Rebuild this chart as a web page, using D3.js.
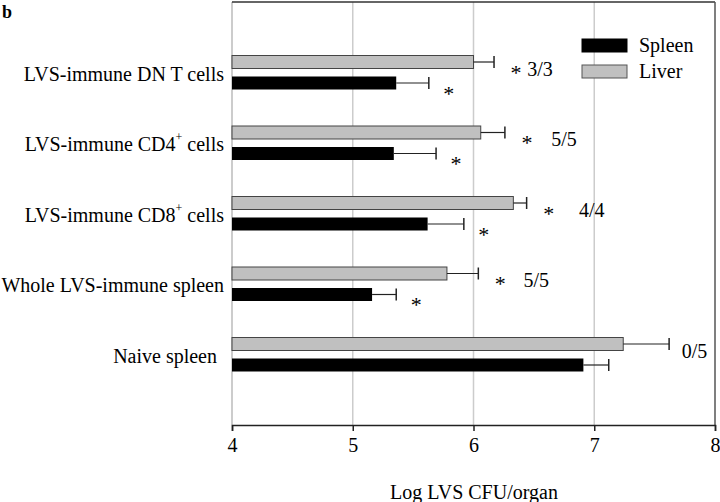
<!DOCTYPE html>
<html><head><meta charset="utf-8">
<script src="https://cdn.jsdelivr.net/npm/d3@7"></script>
<style>
html,body{margin:0;padding:0;background:#fff;}
svg{display:block;}
svg text{font-family:"Liberation Serif","Times New Roman",Times,serif;}
</style></head>
<body>
<svg id="chart" width="720" height="502"></svg>
<script>
// ---- data ----
const categories = ["LVS-immune DN T cells", "LVS-immune CD4+ cells", "LVS-immune CD8+ cells", "Whole LVS-immune spleen", "Naive spleen"];
const spleenValues = [5.36, 5.34, 5.62, 5.16, 6.91];
const spleenErrors = [0.27, 0.35, 0.30, 0.20, 0.21];
const liverValues  = [6.00, 6.06, 6.33, 5.78, 7.24];
const liverErrors  = [0.17, 0.20, 0.11, 0.26, 0.38];
const spleenStars  = [true, true, true, true, false];
const liverStars   = [true, true, true, true, false];
const fractions    = ["3/3", "5/5", "4/4", "5/5", "0/5"];
const fracX        = [6.55, 6.75, 6.98, 6.52, 7.83];
const xTicks = [4, 5, 6, 7, 8];
const seriesNames = ["Spleen", "Liver"];

// ---- layout ----
const FONT = "Liberation Serif";
const svg = d3.select("#chart");
const L = 232, R = 715, T = 2, B = 425;
const x = d3.scaleLinear().domain([4, 8]).range([L, R]);
const y = d3.scalePoint().domain(categories).range([T, B]).padding(1);
const barH = 13, gapIn = 8;
const colors = {Spleen: "#000000", Liver: "#c0c0c0"};

// grid
svg.append("g").selectAll("line").data([5, 6, 7]).join("line")
  .attr("x1", d => x(d)).attr("x2", d => x(d)).attr("y1", T).attr("y2", B)
  .attr("stroke", "#cccccc").attr("stroke-width", 1.5);

// frame
svg.append("line").attr("x1", L).attr("x2", L).attr("y1", T).attr("y2", B).attr("stroke", "#bbbbbb").attr("stroke-width", 1.5);
svg.append("line").attr("x1", L).attr("x2", R).attr("y1", T).attr("y2", T).attr("stroke", "#333").attr("stroke-width", 1.5);
svg.append("line").attr("x1", R).attr("x2", R).attr("y1", T).attr("y2", B).attr("stroke", "#555").attr("stroke-width", 1.5);

// bars
const rows = categories.map((c, i) => ({c, i}));
const g = svg.append("g");
function yLiver(c) { return y(c) - (barH * 2 + gapIn) / 2; }
function ySpleen(c) { return yLiver(c) + barH + gapIn; }

rows.forEach(({c, i}) => {
  const yl = yLiver(c), ys = ySpleen(c);
  g.append("rect").attr("x", x(4)).attr("y", yl).attr("width", x(liverValues[i]) - x(4)).attr("height", barH)
    .attr("fill", colors.Liver).attr("stroke", "#444").attr("stroke-width", 1);
  g.append("rect").attr("x", x(4)).attr("y", ys).attr("width", x(spleenValues[i]) - x(4)).attr("height", barH)
    .attr("fill", colors.Spleen);
  [[liverValues[i], liverErrors[i], yl], [spleenValues[i], spleenErrors[i], ys]].forEach(([v, e, yy]) => {
    const cy = yy + barH / 2;
    g.append("line").attr("x1", x(v)).attr("x2", x(v + e)).attr("y1", cy).attr("y2", cy).attr("stroke", "#222").attr("stroke-width", 1.2);
    g.append("line").attr("x1", x(v + e)).attr("x2", x(v + e)).attr("y1", cy - 6).attr("y2", cy + 6).attr("stroke", "#222").attr("stroke-width", 1.5);
  });
  if (liverStars[i]) {
    g.append("text").attr("x", x(liverValues[i] + liverErrors[i]) + 22).attr("y", yl + barH + 11)
      .attr("text-anchor", "middle").attr("font-family", FONT).attr("font-size", 22).text("*");
  }
  if (spleenStars[i]) {
    g.append("text").attr("x", x(spleenValues[i] + spleenErrors[i]) + 20).attr("y", ys + barH + 11)
      .attr("text-anchor", "middle").attr("font-family", FONT).attr("font-size", 22).text("*");
  }
});

// fraction labels
svg.append("g").selectAll("text").data(rows).join("text")
  .attr("x", d => x(fracX[d.i])).attr("y", d => yLiver(d.c) + barH + 7)
  .attr("text-anchor", "middle").attr("font-family", FONT).attr("font-size", 20).text(d => fractions[d.i]);

// y category labels
const ylab = svg.append("g");
rows.forEach(({c, i}) => {
  const t = ylab.append("text").attr("x", i === 4 ? 217 : 224).attr("y", y(c) + 8)
    .attr("text-anchor", "end").attr("font-family", FONT).attr("font-size", 20);
  const m = c.match(/^(.*CD\d)\+( cells)$/);
  if (m) {
    t.append("tspan").text(m[1]);
    t.append("tspan").attr("font-size", 12).attr("dy", -10).text("+");
    t.append("tspan").attr("dy", 10).text(m[2]);
  } else t.text(c);
});

// x axis
const xa = svg.append("g").attr("transform", `translate(0,${B})`)
  .call(d3.axisBottom(x).tickValues(xTicks).tickFormat(d3.format("d")).tickSize(6).tickPadding(7));
xa.attr("font-family", FONT);
xa.select(".domain").attr("stroke", "#222").attr("stroke-width", 1.5);
xa.selectAll(".tick line").attr("stroke", "#222").attr("stroke-width", 1.5);
xa.selectAll("text").attr("font-size", 20).attr("font-family", FONT).attr("fill", "#000");

svg.append("text").attr("x", 474).attr("y", 499).attr("text-anchor", "middle")
  .attr("font-family", FONT).attr("font-size", 20).text("Log LVS CFU/organ");

// legend
const lg = svg.append("g");
seriesNames.forEach((s, k) => {
  const yy = 39 + k * 26;
  lg.append("rect").attr("x", 582).attr("y", yy).attr("width", 45).attr("height", 13)
    .attr("fill", colors[s]).attr("stroke", s === "Liver" ? "#555" : "#000");
  lg.append("text").attr("x", 639).attr("y", yy + 13).attr("font-family", FONT).attr("font-size", 20).text(s);
});

// panel label
svg.append("text").attr("x", 2).attr("y", 18).attr("font-family", FONT).attr("font-size", 18).attr("font-weight", "bold").text("b");
</script>
</body></html>
